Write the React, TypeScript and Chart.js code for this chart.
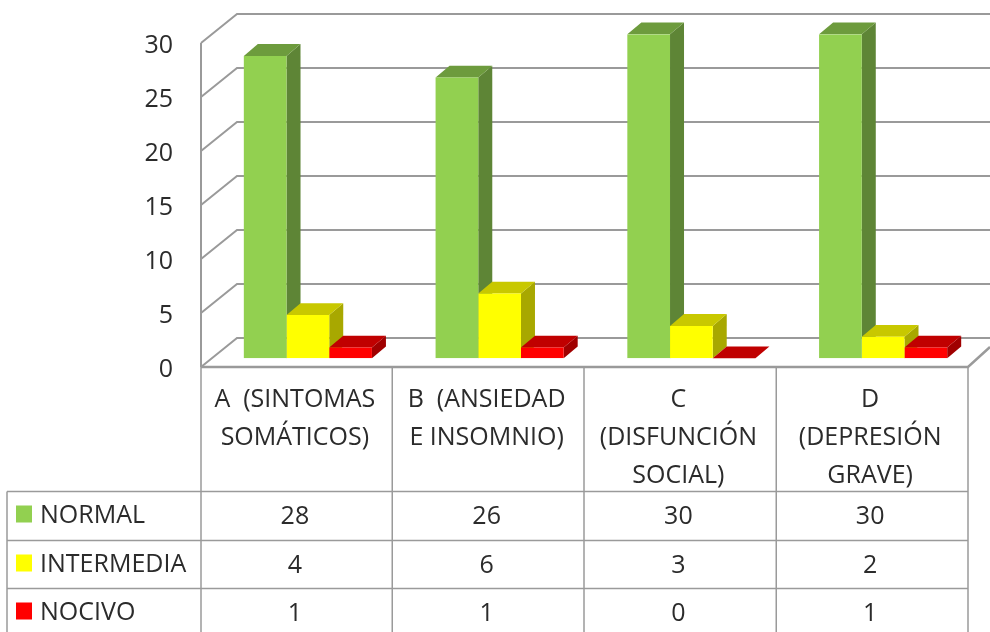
import React, { useEffect, useRef } from "react";
import { Chart, registerables } from "chart.js";

Chart.register(...registerables);

const categories: string[][] = [
  ["A  (SINTOMAS", "SOMÁTICOS)"],
  ["B  (ANSIEDAD", "E INSOMNIO)"],
  ["C", "(DISFUNCIÓN", "SOCIAL)"],
  ["D", "(DEPRESIÓN", "GRAVE)"],
];
const normal = [28, 26, 30, 30];
const intermedia = [4, 6, 3, 2];
const nocivo = [1, 1, 0, 1];

const FONT = '"Open Sans"';
const TEXT = "#2b2b2b";
const LINE = "#9a9a9a";
const DX = 36;
const DY = 29;
const BAR_DX = 11;
const BAR_DY = 8.7;
const DEPTH_X = 14;
const DEPTH_Y = 11.8;

const faces = [
  { front: "#92D050", top: "#6D9B3D", side: "#5E8536" },
  { front: "#FFFF00", top: "#C8C800", side: "#A8A800" },
  { front: "#FF0000", top: "#C00000", side: "#A00000" },
];

const poly = (ctx: CanvasRenderingContext2D, pts: number[][], fill: string) => {
  ctx.beginPath();
  pts.forEach(([x, y], i) => (i ? ctx.lineTo(x, y) : ctx.moveTo(x, y)));
  ctx.closePath();
  ctx.fillStyle = fill;
  ctx.fill();
};

const walls3d = {
  id: "walls3d",
  beforeDatasetsDraw(chart: any) {
    const { ctx, chartArea: a, scales } = chart;
    const W = 990;
    ctx.save();
    ctx.strokeStyle = LINE;
    ctx.lineWidth = 2;
    ctx.lineCap = "butt";
    for (const t of scales.y.ticks) {
      const y = scales.y.getPixelForValue(t.value);
      ctx.beginPath();
      ctx.moveTo(a.left, y);
      ctx.lineTo(a.left + DX, y - DY);
      ctx.lineTo(W, y - DY);
      ctx.stroke();
    }
    ctx.beginPath();
    ctx.moveTo(a.left, a.top);
    ctx.lineTo(a.left, a.bottom);
    ctx.stroke();
    ctx.lineWidth = 2.5;
    ctx.beginPath();
    ctx.moveTo(a.left, a.bottom);
    ctx.lineTo(a.right, a.bottom);
    ctx.lineTo(a.right + 22, a.bottom - 20);
    ctx.stroke();

    // side and top faces, left bar first, so that each later front face sits over them
    ctx.translate(BAR_DX, -BAR_DY);
    faces.forEach((f, i) => {
      for (const el of chart.getDatasetMeta(i).data) {
        const { x, y, base, width } = el.getProps(["x", "y", "base", "width"], true);
        const l = x - width / 2;
        const r = x + width / 2;
        if (base - y > 0.5) {
          poly(ctx, [[r, y], [r + DEPTH_X, y - DEPTH_Y], [r + DEPTH_X, base - DEPTH_Y], [r, base]], f.side);
        }
        poly(ctx, [[l, y], [l + DEPTH_X, y - DEPTH_Y], [r + DEPTH_X, y - DEPTH_Y], [r, y]], f.top);
      }
    });
    ctx.restore();
  },
  beforeDatasetDraw(chart: any) {
    chart.ctx.save();
    chart.ctx.translate(BAR_DX, -BAR_DY);
  },
  afterDatasetDraw(chart: any) {
    chart.ctx.restore();
  },
};

const rows = [
  { name: "NORMAL", values: normal, y: 514, swatch: faces[0].front },
  { name: "INTERMEDIA", values: intermedia, y: 563, swatch: faces[1].front },
  { name: "NOCIVO", values: nocivo, y: 611, swatch: faces[2].front },
];

const dataTable = {
  id: "dataTable",
  afterDraw(chart: any) {
    const { ctx, chartArea: a, scales } = chart;
    const bottom = 632;
    const band = (a.right - a.left) / categories.length;
    ctx.save();
    ctx.strokeStyle = LINE;
    ctx.lineWidth = 1.5;
    for (let i = 0; i <= categories.length; i++) {
      const x = a.left + band * i - (i === 1 || i === 2 ? 0.5 : 0);
      ctx.beginPath();
      ctx.moveTo(x, a.bottom);
      ctx.lineTo(x, bottom);
      ctx.stroke();
    }
    ctx.beginPath();
    ctx.moveTo(7, 491.5);
    ctx.lineTo(7, bottom);
    ctx.stroke();
    for (const y of [491.5, 540.5, 588.5]) {
      ctx.beginPath();
      ctx.moveTo(7, y);
      ctx.lineTo(a.right, y);
      ctx.stroke();
    }
    ctx.font = `25px ${FONT}`;
    ctx.textBaseline = "middle";
    for (const r of rows) {
      ctx.fillStyle = r.swatch;
      ctx.fillRect(16, r.y - 8.5, 16, 17);
      ctx.fillStyle = TEXT;
      ctx.textAlign = "left";
      ctx.fillText(r.name, 40, r.y + 2);
      ctx.textAlign = "center";
      r.values.forEach((v, i) => ctx.fillText(String(v), scales.x.getPixelForTick(i) - 2, r.y + 3));
    }
    ctx.restore();
  },
};

export default function App() {
  const ref = useRef<HTMLCanvasElement>(null);
  useEffect(() => {
    const chart = new Chart(ref.current!, {
      type: "bar",
      data: {
        labels: categories,
        datasets: [
          { label: "NORMAL", data: normal, backgroundColor: faces[0].front },
          { label: "INTERMEDIA", data: intermedia, backgroundColor: faces[1].front },
          { label: "NOCIVO", data: nocivo, backgroundColor: faces[2].front },
        ],
      },
      options: {
        animation: false,
        responsive: false,
        devicePixelRatio: 1,
        layout: { padding: { left: 0, top: 43, right: 22, bottom: 0 } },
        datasets: { bar: { categoryPercentage: 0.668, barPercentage: 1, borderWidth: 0 } },
        plugins: { legend: { display: false }, tooltip: { enabled: false }, title: { display: false } },
        scales: {
          x: {
            grid: { display: false, drawTicks: false },
            border: { display: false },
            afterFit: (s: any) => {
              s.height = 265;
            },
            ticks: {
              autoSkip: false,
              maxRotation: 0,
              minRotation: 0,
              padding: 14,
              labelOffset: -2,
              color: TEXT,
              font: { family: FONT, size: 25, lineHeight: 1.52 },
            },
          },
          y: {
            min: 0,
            max: 30,
            grid: { display: false, drawTicks: false },
            border: { display: false },
            afterFit: (s: any) => {
              s.width = 201;
            },
            ticks: {
              stepSize: 5,
              padding: 28,
              labelOffset: 3,
              color: TEXT,
              font: { family: FONT, size: 25 },
            },
          },
        },
      },
      plugins: [walls3d, dataTable],
    } as any);
    return () => chart.destroy();
  }, []);
  return (
    <div style={{ position: "absolute", left: 0, top: 0, width: 990, height: 632, background: "#fff" }}>
      <canvas ref={ref} width={990} height={632} style={{ display: "block" }} />
    </div>
  );
}
